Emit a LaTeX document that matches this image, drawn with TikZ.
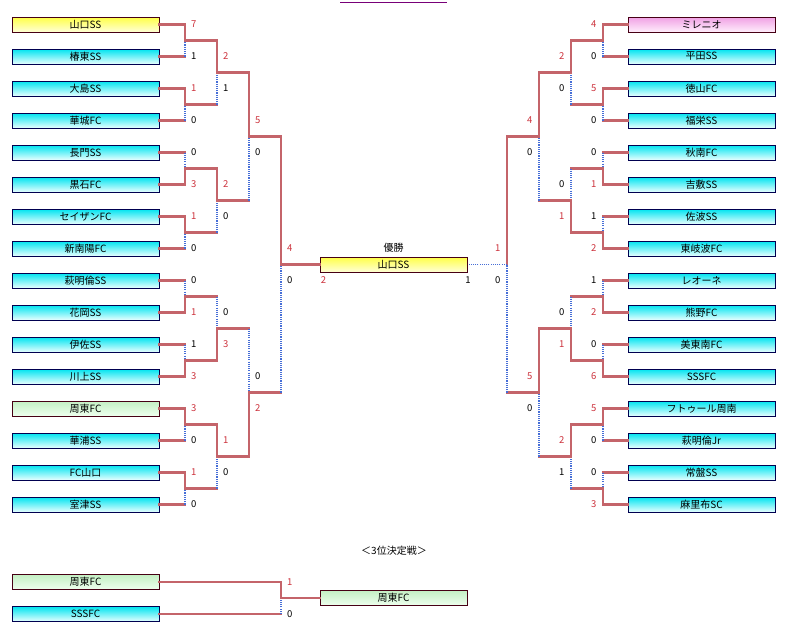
\documentclass[tikz,border=0pt]{standalone}
\usepackage{fontspec}
\setmainfont{Noto Sans CJK JP}
\definecolor{linered}{RGB}{196,100,106}
\definecolor{dotblue}{RGB}{70,110,215}
\definecolor{scorered}{RGB}{205,50,60}
\definecolor{navy}{RGB}{0,0,80}
\definecolor{maroon}{RGB}{70,0,20}
\definecolor{cyantop}{RGB}{0,228,240}
\definecolor{cyanbot}{RGB}{232,255,255}
\definecolor{yeltop}{RGB}{255,255,70}
\definecolor{yelbot}{RGB}{255,255,215}
\definecolor{pinktop}{RGB}{240,160,228}
\definecolor{pinkbot}{RGB}{255,238,252}
\definecolor{greentop}{RGB}{196,240,196}
\definecolor{greenbot}{RGB}{238,255,238}
\definecolor{titlepurple}{RGB}{120,0,120}
\newcommand\boutG[8]{%
  \draw[win] (#3) -- (#3 -| #1);
  \draw[win] (#4) -- (#4 -| #1);
  \draw[#5] (#3 -| #1) -- (#1);
  \draw[#6] (#4 -| #1) -- (#1);
  \node[#5s,#2] (#1t) at ([yshift=16pt]#1) {#7};
  \node[#6s,#2] (#1b) at ([yshift=-16pt]#1) {#8};
}
\newcommand\boutT[6]{\boutG{#1}{#2}{#3}{#4}{win}{lose}{#5}{#6}}
\newcommand\boutB[6]{\boutG{#1}{#2}{#3}{#4}{lose}{win}{#5}{#6}}
\begin{document}
\begin{tikzpicture}[x=1pt,y=-1pt,
  team/.style={draw=navy, line width=0.9pt, minimum width=147pt, minimum height=15pt,
    inner sep=0pt, font=\fontsize{10}{11}\selectfont, top color=cyantop, bottom color=cyanbot},
  yteam/.style={team, draw=maroon, top color=yeltop, bottom color=yelbot},
  pteam/.style={team, draw=maroon, top color=pinktop, bottom color=pinkbot},
  gteam/.style={team, draw=maroon, top color=greentop, bottom color=greenbot},
  win/.style={draw=linered, line width=2.1pt, line cap=rect},
  lose/.style={draw=dotblue, line width=1.1pt, dash pattern=on 1.1pt off 1.1pt},
  wins/.style={text=scorered, inner sep=0pt, font=\fontsize{9.5}{10}\selectfont},
  loses/.style={text=black, inner sep=0pt, font=\fontsize{9.5}{10}\selectfont},
  scL/.style={anchor=west, xshift=6pt},
  scR/.style={anchor=east, xshift=-6.5pt},
  lbl/.style={inner sep=0pt, font=\fontsize{10}{11}\selectfont}]
\useasboundingbox (0,0) rectangle (800,632);
\fill[white] (0,0) rectangle (800,632);
\draw[titlepurple, line width=0.8pt] (340,2) -- (447,2);

% left teams
\node[yteam] (L1) at (85.5,24.5) {山口SS};
\node[team] (L2) at (85.5,56.5) {椿東SS};
\node[team] (L3) at (85.5,88.5) {大島SS};
\node[team] (L4) at (85.5,120.5) {華城FC};
\node[team] (L5) at (85.5,152.5) {長門SS};
\node[team] (L6) at (85.5,184.5) {黒石FC};
\node[team] (L7) at (85.5,216.5) {セイザンFC};
\node[team] (L8) at (85.5,248.5) {新南陽FC};
\node[team] (L9) at (85.5,280.5) {萩明倫SS};
\node[team] (L10) at (85.5,312.5) {花岡SS};
\node[team] (L11) at (85.5,344.5) {伊佐SS};
\node[team] (L12) at (85.5,376.5) {川上SS};
\node[gteam] (L13) at (85.5,408.5) {周東FC};
\node[team] (L14) at (85.5,440.5) {華浦SS};
\node[team] (L15) at (85.5,472.5) {FC山口};
\node[team] (L16) at (85.5,504.5) {室津SS};
% right teams
\node[pteam] (R1) at (701.5,24.5) {ミレニオ};
\node[team] (R2) at (701.5,56.5) {平田SS};
\node[team] (R3) at (701.5,88.5) {徳山FC};
\node[team] (R4) at (701.5,120.5) {福栄SS};
\node[team] (R5) at (701.5,152.5) {秋南FC};
\node[team] (R6) at (701.5,184.5) {吉敷SS};
\node[team] (R7) at (701.5,216.5) {佐波SS};
\node[team] (R8) at (701.5,248.5) {東岐波FC};
\node[team] (R9) at (701.5,280.5) {レオーネ};
\node[team] (R10) at (701.5,312.5) {熊野FC};
\node[team] (R11) at (701.5,344.5) {美東南FC};
\node[team] (R12) at (701.5,376.5) {SSSFC};
\node[team] (R13) at (701.5,408.5) {フトゥール周南};
\node[team] (R14) at (701.5,440.5) {萩明倫Jr};
\node[team] (R15) at (701.5,472.5) {常盤SS};
\node[team] (R16) at (701.5,504.5) {麻里布SC};

% junctions
\foreach \m in {1,...,8} {
  \coordinate (la\m) at (185,{40.5+64*(\m-1)});
  \coordinate (ra\m) at (603,{40.5+64*(\m-1)});
}
\foreach \m in {1,...,4} {
  \coordinate (lb\m) at (217,{72.5+128*(\m-1)});
  \coordinate (rb\m) at (571,{72.5+128*(\m-1)});
}
\foreach \m in {1,2} {
  \coordinate (lc\m) at (249,{136.5+256*(\m-1)});
  \coordinate (rc\m) at (539,{136.5+256*(\m-1)});
}
\coordinate (ld1) at (281,264.5);
\coordinate (rd1) at (507,264.5);

% left bracket
\boutT{la1}{scL}{L1.east}{L2.east}{7}{1}
\boutT{la2}{scL}{L3.east}{L4.east}{1}{0}
\boutB{la3}{scL}{L5.east}{L6.east}{0}{3}
\boutT{la4}{scL}{L7.east}{L8.east}{1}{0}
\boutB{la5}{scL}{L9.east}{L10.east}{0}{1}
\boutB{la6}{scL}{L11.east}{L12.east}{1}{3}
\boutT{la7}{scL}{L13.east}{L14.east}{3}{0}
\boutT{la8}{scL}{L15.east}{L16.east}{1}{0}
\boutT{lb1}{scL}{la1}{la2}{2}{1}
\boutT{lb2}{scL}{la3}{la4}{2}{0}
\boutB{lb3}{scL}{la5}{la6}{0}{3}
\boutT{lb4}{scL}{la7}{la8}{1}{0}
\boutT{lc1}{scL}{lb1}{lb2}{5}{0}
\boutB{lc2}{scL}{lb3}{lb4}{0}{2}
\boutT{ld1}{scL}{lc1}{lc2}{4}{0}

% right bracket
\boutT{ra1}{scR}{R1.west}{R2.west}{4}{0}
\boutT{ra2}{scR}{R3.west}{R4.west}{5}{0}
\boutB{ra3}{scR}{R5.west}{R6.west}{0}{1}
\boutB{ra4}{scR}{R7.west}{R8.west}{1}{2}
\boutB{ra5}{scR}{R9.west}{R10.west}{1}{2}
\boutB{ra6}{scR}{R11.west}{R12.west}{0}{6}
\boutT{ra7}{scR}{R13.west}{R14.west}{5}{0}
\boutB{ra8}{scR}{R15.west}{R16.west}{0}{3}
\boutT{rb1}{scR}{ra1}{ra2}{2}{0}
\boutB{rb2}{scR}{ra3}{ra4}{0}{1}
\boutB{rb3}{scR}{ra5}{ra6}{0}{1}
\boutT{rb4}{scR}{ra7}{ra8}{2}{1}
\boutT{rc1}{scR}{rb1}{rb2}{4}{0}
\boutT{rc2}{scR}{rb3}{rb4}{5}{0}
\boutT{rd1}{scR}{rc1}{rc2}{1}{0}

% final
\node[yteam] (F) at (393.5,264.5) {山口SS};
\draw[win] (ld1) -- (F.west);
\draw[lose] (rd1) -- (F.east);
\node[lbl] (champ) at ([yshift=17pt]F.center) {優勝};
\node[wins, anchor=west] (fs1) at ([yshift=-16pt,xshift=1pt]F.west) {2};
\node[loses, anchor=east] (fs2) at ([yshift=-16pt,xshift=3.5pt]F.east) {1};

% third place
\node[lbl] (ttl) at (394,551) {＜3位決定戦＞};
\node[gteam] (T1) at (85.5,582) {周東FC};
\node[team] (T2) at (85.5,614) {SSSFC};
\node[gteam] (T3) at (393.5,598) {周東FC};
\coordinate (tj) at (281,598);
\boutT{tj}{scL}{T1.east}{T2.east}{1}{0}
\draw[win] (tj) -- (T3.west);
\end{tikzpicture}
\end{document}
